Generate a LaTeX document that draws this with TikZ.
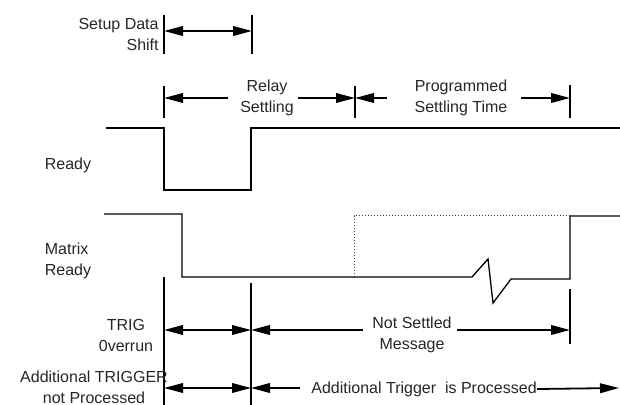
\documentclass[tikz,border=0pt]{standalone}
\usepackage{fontspec}
\setmainfont{Liberation Sans}
\usepackage{tikz}
\usetikzlibrary{arrows.meta,positioning,calc}

\begin{document}
\begin{tikzpicture}[
    x=0.5pt, y=-0.5pt,
    font=\fontsize{8}{10.5}\selectfont,
    lbl/.style={align=center, inner sep=0pt, text=black!85},
    sig/.style={line width=0.65pt},
    tickline/.style={line width=0.6pt},
    dim/.style={{Triangle[length=9.5pt,width=4.8pt]}-{Triangle[length=9.5pt,width=4.8pt]}, line width=0.9pt},
    arr/.style={-{Triangle[length=9.5pt,width=4.8pt]}, line width=0.9pt}
]
\useasboundingbox (0,0) rectangle (620,405);

% Setup data shift
\node[lbl, align=right, anchor=east] (setup) at (159,34) {Setup Data\\Shift};
\draw[tickline] (164,15) -- (164,54);
\draw[tickline] (252,15) -- (252,54);
\coordinate (sdL) at (164,31);
\coordinate (sdR) at (252,31);
\draw[dim] (sdL) -- (sdR);

% Relay / programmed settling
\draw[tickline] (164,86) -- (164,118);
\draw[tickline] (355,86) -- (355,118);
\draw[tickline] (570,85) -- (570,118);
\node[lbl] (relay) at (267,98) {Relay\\Settling};
\node[lbl] (prog) at (461,98) {Programmed\\Settling Time};
\coordinate (rsA) at (164,98);
\coordinate (rsB) at (228,98);
\coordinate (rsC) at (298,98);
\coordinate (rsD) at (355,98);
\coordinate (psA) at (387,98);
\coordinate (psB) at (521,98);
\coordinate (psC) at (570,98);
\draw[arr] (rsB) -- (rsA);
\draw[arr] (rsC) -- (rsD);
\draw[arr] (psA) -- (rsD);
\draw[arr] (psB) -- (psC);

% Ready
\node[lbl] (ready) at (68,165) {Ready};
\draw[sig] (106,128) -- (164,128) -- (164,190) -- (251,190) -- (251,128) -- (620,128);

% Matrix ready
\node[lbl, align=left] (mready) at (68,261) {Matrix\\Ready};
\draw[sig] (104,214) -- (182,214) -- (182,277) -- (472,277) -- (488,259) -- (493,303)
    -- (511,279) -- (570,279) -- (570,216) -- (620,216);
\draw[line width=0.5pt, densely dotted, black!75] (354,277) -- (354,216) -- (570,216);

% Lines down
\draw[tickline] (164,277) -- (164,405);
\draw[tickline] (251,283) -- (251,405);
\draw[tickline] (570,289) -- (570,344);

% TRIG overrun
\node[lbl] (trig) at (126,335) {TRIG\\0verrun};
\node[lbl] (notset) at (412,335) {Not Settled\\Message};
\coordinate (toA) at (164,330);
\coordinate (toB) at (251,330);
\coordinate (nsA) at (363,330);
\coordinate (nsB) at (457,330);
\coordinate (nsC) at (570,330);
\draw[dim] (toA) -- (toB);
\draw[arr] (nsA) -- (toB);
\draw[arr] (nsB) -- (nsC);

% Additional trigger
\node[lbl] (addnot) at (94,387) {Additional TRIGGER\\not Processed};
\node[lbl, anchor=west] (addis) at (311,389) {Additional Trigger\ \ is Processed};
\coordinate (atA) at (164,388);
\coordinate (atB) at (251,388);
\coordinate (atC) at (300,388);
\coordinate (atD) at (619,388);
\draw[dim] (atA) -- (atB);
\draw[arr] (atC) -- (atB);
\draw[arr] (addis.east) -- (atD);
\end{tikzpicture}
\end{document}
